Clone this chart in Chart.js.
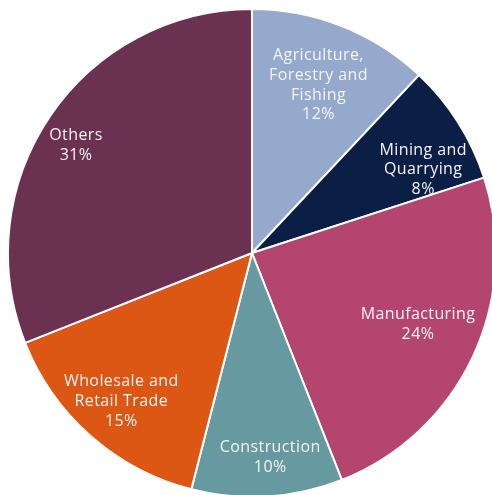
<!DOCTYPE html>
<html>
<head>
<meta charset="utf-8">
<script src="https://cdn.jsdelivr.net/npm/chart.js@4/dist/chart.umd.min.js"></script>
<style>
  html, body { margin: 0; padding: 0; background: #ffffff; overflow: hidden; width: 492px; height: 495px; }
  #wrap { position: absolute; left: 7px; top: 8px; width: 490px; height: 490px; }
</style>
</head>
<body>
<div id="wrap"><canvas id="c" width="490" height="490"></canvas></div>
<script>
const categories = [
  ['Agriculture,', 'Forestry and', 'Fishing'],
  ['Mining and', 'Quarrying'],
  ['Manufacturing'],
  ['Construction'],
  ['Wholesale and', 'Retail Trade'],
  ['Others']
];
const shares = [12, 8, 24, 10, 15, 31];
const colors = ['#95A9CC', '#0B1E45', '#B4456F', '#6699A0', '#DC5614', '#6A3150'];
const labelRadius = [0.74, 0.78, 0.74, 0.84, 0.81, 0.845];
const labelAngleShift = [0, 6.5, -2, -1.5, 0, -2.8];

const sliceLabels = {
  id: 'sliceLabels',
  afterDatasetsDraw(chart) {
    const ctx = chart.ctx;
    const meta = chart.getDatasetMeta(0);
    const data = chart.data.datasets[0].data;
    ctx.save();
    ctx.fillStyle = '#F4F4F4';
    ctx.font = '400 16px "Open Sans", sans-serif';
    if ('letterSpacing' in ctx) ctx.letterSpacing = '0.4px';
    ctx.textAlign = 'center';
    ctx.textBaseline = 'middle';
    const lh = 19.7;
    meta.data.forEach((arc, i) => {
      const p = arc.getProps(['x', 'y', 'startAngle', 'endAngle', 'outerRadius'], true);
      const mid = (p.startAngle + p.endAngle) / 2 + labelAngleShift[i] * Math.PI / 180;
      const r = p.outerRadius * labelRadius[i];
      const cx = p.x + Math.cos(mid) * r;
      const cy = p.y + Math.sin(mid) * r;
      const lines = [...chart.data.labels[i], data[i] + '%'];
      const top = cy - (lines.length - 1) * lh / 2;
      lines.forEach((t, k) => ctx.fillText(t, cx, top + k * lh));
    });
    ctx.restore();
  }
};

new Chart(document.getElementById('c'), {
  type: 'pie',
  data: {
    labels: categories,
    datasets: [{
      data: shares,
      backgroundColor: colors,
      borderColor: '#ffffff',
      borderWidth: 2
    }]
  },
  options: {
    responsive: false,
    animation: false,
    layout: { padding: 0 },
    plugins: { legend: { display: false }, tooltip: { enabled: false } }
  },
  plugins: [sliceLabels]
});
</script>
</body>
</html>
